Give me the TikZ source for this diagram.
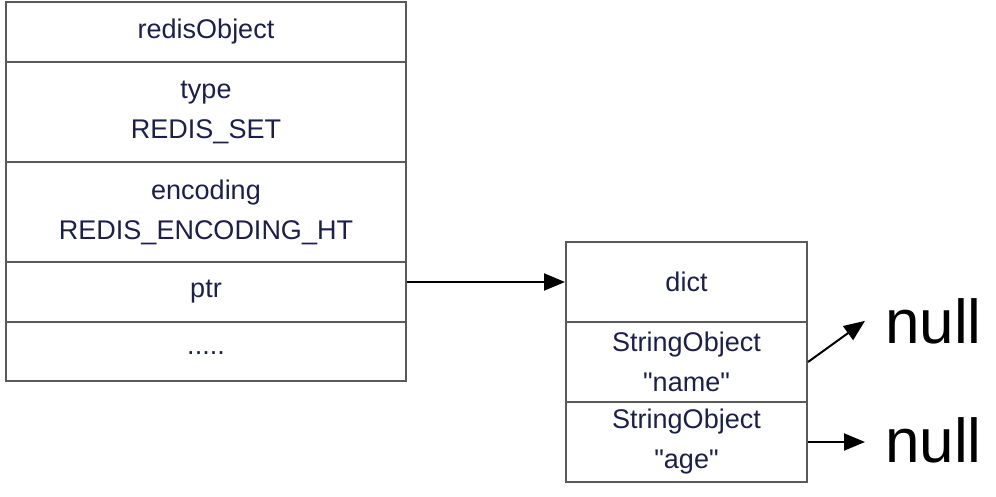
\documentclass[tikz,border=0pt]{standalone}
\usepackage{fontspec}
\newfontfamily\lsans{Liberation Sans}
\usetikzlibrary{arrows.meta}
\definecolor{txt}{HTML}{1B1F4B}
\definecolor{edge}{HTML}{5A5A5A}
\tikzset{
  cell/.style={draw=edge, line width=2pt, rectangle, inner sep=0pt, anchor=north west,
    align=center, text=txt, font=\lsans\fontsize{27}{40}\selectfont},
  lcell/.style={cell, minimum width=400pt},
  rcell/.style={cell, minimum width=241pt},
  arr/.style={draw=black, line width=2pt, -{Triangle[length=21pt,width=17pt]}},
  nulltxt/.style={inner xsep=20pt, inner ysep=0pt, anchor=base west, font=\lsans\fontsize{62}{62}\selectfont, text=black}
}
\begin{document}
\begin{tikzpicture}[x=1pt,y=-1pt]
\useasboundingbox (0,0) rectangle (996,496);
% left object
\node[lcell, minimum height=60pt]  (robj) at (5,1)   {redisObject};
\node[lcell, minimum height=100pt] (type) at (5,61)  {type\\REDIS\_SET};
\node[lcell, minimum height=100pt] (enc)  at (5,161) {encoding\\REDIS\_ENCODING\_HT};
\node[lcell, minimum height=60pt]  (ptr)  at (5,261) {ptr};
\node[lcell, minimum height=59pt]  (dots) at (5,321) {\raisebox{-5pt}{.....}};
% right dict
\node[rcell, minimum height=80pt] (dict) at (565,241) {dict};
\node[rcell, minimum height=80pt] (name) at (565,321) {StringObject\\"name"};
\node[rcell, minimum height=80pt] (age)  at (565,401) {StringObject\\"age"};
% nulls
\node[nulltxt] (null1) at (865,343) {null};
\node[nulltxt] (null2) at (865,462) {null};
% arrows
\draw[arr] (ptr.east |- dict.west) -- (dict.west);
\draw[arr] (name.east) -- (null1.west);
\draw[arr] (age.east) -- (age.east -| null2.west);
\end{tikzpicture}
\end{document}
